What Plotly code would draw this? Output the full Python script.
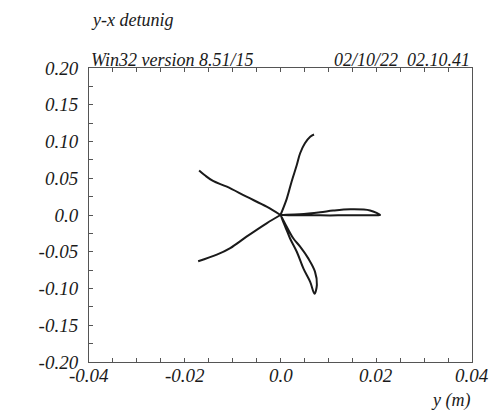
import plotly.graph_objects as go

# --- data ---
c1_x = [0.0, 0.0013, 0.0023, 0.0034, 0.0041, 0.0051, 0.0062, 0.0070]
c1_y = [0.0, 0.022, 0.045, 0.068, 0.084, 0.0975, 0.1065, 0.1095]

c2_x = [0.0, -0.0029, -0.0071, -0.0112, -0.0141, -0.0158, -0.0170]
c2_y = [0.0, 0.0113, 0.0249, 0.0385, 0.0463, 0.0540, 0.0605]

c3_x = [0.0, -0.0029, -0.0071, -0.0105, -0.0133, -0.0172]
c3_y = [0.0, -0.0113, -0.0295, -0.0450, -0.0540, -0.0630]

c4_x = [0.0, 0.0010, 0.0020, 0.0034, 0.0048, 0.0062, 0.0071, 0.0076, 0.0072, 0.0058, 0.0041, 0.0027, 0.0013, 0.0]
c4_y = [0.0, -0.016, -0.032, -0.050, -0.073, -0.091, -0.107, -0.095, -0.077, -0.059, -0.043, -0.032, -0.016, 0.0]

c5_x = [0.0, 0.0040, 0.0083, 0.0120, 0.0160, 0.0190, 0.0208, 0.0187, 0.0146, 0.0110, 0.0083, 0.0040, 0.0]
c5_y = [0.0, -0.0004, -0.0005, -0.0005, -0.0004, -0.0003, 0.0, 0.0062, 0.0077, 0.0060, 0.0037, 0.0010, 0.0]

x_tickvals = [-0.04, -0.02, 0.0, 0.02, 0.04]
x_ticktext = ["-0.04", "-0.02", "0.0", "0.02", "0.04"]
y_tickvals = [0.20, 0.15, 0.10, 0.05, 0.0, -0.05, -0.10, -0.15, -0.20]
y_ticktext = ["0.20", "0.15", "0.10", "0.05", "0.0", "-0.05", "-0.10", "-0.15", "-0.20"]

title_text = "y-x detunig"
left_header = "Win32 version 8.51/15"
right_header = "02/10/22  02.10.41"
x_title = "y (m)"

FONT = "Liberation Serif"
TXT = "#1a1a1a"
AX = "#555555"

fig = go.Figure()
for xs, ys in [(c1_x, c1_y), (c2_x, c2_y), (c3_x, c3_y), (c4_x, c4_y), (c5_x, c5_y)]:
    fig.add_trace(go.Scatter(x=xs, y=ys, mode="lines",
                             line=dict(color="#1a1a1a", width=2, shape="spline", smoothing=1.0),
                             hoverinfo="skip", showlegend=False))

fig.update_layout(
    width=494, height=413,
    margin=dict(l=89, r=22, t=68, b=51),
    paper_bgcolor="white", plot_bgcolor="white",
    font=dict(family=FONT, color=TXT),
    showlegend=False,
)

fig.update_xaxes(
    range=[-0.04, 0.04], showgrid=False, zeroline=False,
    showline=True, linecolor=AX, linewidth=1, mirror="ticks",
    ticks="inside", ticklen=4, tickcolor=AX, tickwidth=1,
    tickvals=x_tickvals, showticklabels=False,
    minor=dict(dtick=0.005, ticks="inside", ticklen=4, tickcolor=AX, tickwidth=1, showgrid=False),
)
fig.update_yaxes(
    range=[-0.20, 0.20], showgrid=False, zeroline=False,
    showline=True, linecolor=AX, linewidth=1, mirror=True,
    ticks="inside", ticklen=4, tickcolor=AX, tickwidth=1,
    tickvals=y_tickvals, ticktext=["<i>%s</i>" % t for t in y_ticktext],
    ticklabelstandoff=6,
    tickfont=dict(family=FONT, size=19, color=TXT),
    minor=dict(dtick=0.025, ticks="inside", ticklen=4, tickcolor=AX, tickwidth=1, showgrid=False),
)

# x tick labels placed on the x scale
for v, t in zip(x_tickvals, x_ticktext):
    fig.add_annotation(text="<i>%s</i>" % t, xref="x", yref="paper", x=v, y=0, yshift=-1,
                       xanchor="center", yanchor="top", showarrow=False,
                       font=dict(family=FONT, size=19, color=TXT))

fig.add_annotation(text="<i>%s</i>" % title_text, xref="paper", yref="paper", x=0, y=1, yshift=48,
                   xanchor="left", yanchor="middle", showarrow=False,
                   font=dict(family=FONT, size=18, color=TXT))
fig.add_annotation(text="<i>%s</i>" % left_header, xref="paper", yref="paper", x=0, y=1, yshift=8,
                   xanchor="left", yanchor="middle", showarrow=False,
                   font=dict(family=FONT, size=18, color=TXT))
fig.add_annotation(text="<i>%s</i>" % right_header.replace("  ", "&nbsp; "), xref="paper", yref="paper", x=1, y=1, yshift=8,
                   xanchor="right", yanchor="middle", showarrow=False,
                   font=dict(family=FONT, size=18, color=TXT))
fig.add_annotation(text="<i>%s</i>" % x_title, xref="paper", yref="paper", x=1, y=0, yshift=-38,
                   xanchor="right", yanchor="middle", showarrow=False,
                   font=dict(family=FONT, size=18, color=TXT))

fig.write_html("out.html")
